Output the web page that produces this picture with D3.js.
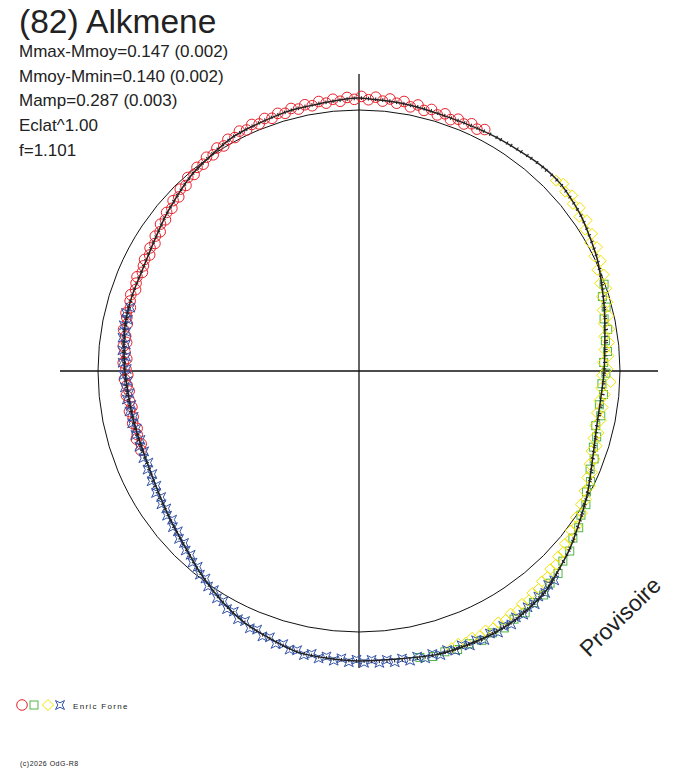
<!DOCTYPE html>
<html><head><meta charset="UTF-8">
<title>(82) Alkmene</title>
<script src="https://cdn.jsdelivr.net/npm/d3@7/dist/d3.min.js"></script>
<style>
  body { margin: 0; background: #fff; }
  svg { display: block; }
  text { font-family: "Liberation Sans", Arial, sans-serif; fill: #222; }
  .axis { stroke: #111; stroke-width: 1.3; }
  .ref { fill: none; stroke: #111; stroke-width: 1; }
  .fit { fill: none; stroke: #222; stroke-width: 1.5; }
  .tick { stroke: #222; stroke-width: 1.1; }
  .mark { fill: none; stroke-width: 1; }
</style>
</head>
<body>
<svg width="688" height="768"></svg>
<script>
//begin: data (phase in degrees clockwise from top, flux relative to mean)
var fitPhase = [0,10,20,30,40,47,55,65,76,90,103,110,118,125,131,140,148,155,165,180,192,203,210,218,225,233,246,258,270,280,288,295,303,310,320,332,344,354];
var fitFlux  = [1.046,1.038,1.031,1.038,1.050,1.054,1.038,1.008,0.969,0.939,0.935,0.954,0.992,1.027,1.061,1.107,1.126,1.130,1.126,1.111,1.103,1.065,1.031,0.985,0.946,0.916,0.885,0.885,0.897,0.912,0.916,0.916,0.931,0.954,0.989,1.019,1.031,1.038];

var redPhase = [250,251.5,253,254,255.5,257,258.5,260,261,262.5,264,265,266.5,268,269,270.5,272,273,274.5,276,277,278.5,280,281.5,283,284,285.5,287,288.5,290,291.5,293,294.5,296,297.5,299,300.5,302,303.5,305,306.5,308,309.5,311,312.5,314,315.5,317,318.5,320,321.5,323,324.5,326,327.5,329,330.5,332,333.5,335,336.5,338,339.5,341,342.5,344,345.5,347,348.5,350,351.5,353,354.5,356,357.5,359,0.5,2,3.5,5,6.5,8,9.5,11,12.5,14,15.5,17,18.5,20,21.5,23,24.5,26,27.5];
var redFlux  = [0.889,0.880,0.892,0.884,0.878,0.890,0.883,0.893,0.881,0.887,0.896,0.884,0.890,0.899,0.886,0.893,0.904,0.891,0.899,0.908,0.897,0.904,0.916,0.906,0.913,0.920,0.909,0.917,0.922,0.911,0.918,0.924,0.912,0.919,0.926,0.917,0.929,0.922,0.936,0.930,0.946,0.941,0.955,0.950,0.966,0.960,0.977,0.972,0.990,0.983,0.997,0.992,1.006,0.999,1.013,1.006,1.020,1.013,1.027,1.019,1.030,1.021,1.033,1.024,1.035,1.027,1.039,1.030,1.041,1.032,1.044,1.034,1.046,1.036,1.049,1.041,1.052,1.040,1.051,1.038,1.049,1.036,1.047,1.031,1.044,1.029,1.040,1.026,1.039,1.025,1.037,1.028,1.041,1.031,1.043];

var greenPhase = [70.5,73,75.5,78,80.5,83,85.5,88,90.5,93,95.5,98,100.5,103,105.5,108,110.5,113,115.5,118,120.5,123,125.5,128,130.5,133,135.5,138,140.5,143,145.5,148,150.5,153,155.5,158,160.5,163,165.5,168];
var greenFlux  = [0.996,0.975,0.978,0.960,0.966,0.951,0.955,0.938,0.946,0.932,0.941,0.930,0.942,0.931,0.945,0.944,0.962,0.962,0.983,0.987,1.009,1.014,1.034,1.040,1.062,1.068,1.088,1.094,1.112,1.111,1.124,1.121,1.131,1.126,1.134,1.127,1.132,1.125,1.130,1.122];

var yellowPhase = [46,47.5,49,50.5,52,53.5,55,56.5,58,59.5,61,62.5,64,65.5,67,68.5,70,71.5,73,74.5,76,77.5,79,80.5,82,83.5,85,86.5,88,89.5,91,92.5,94,95.5,97,98.5,100,101.5,103,104.5,106,107.5,109,110.5,112,113.5,115,116.5,118,119.5,121,122.5,124,125.5,127,128.5,130,131.5,133,134.5,136,137.5,139,140.5,142,143.5,145,146.5,148,149.5,151,152.5,154,155.5,157,158.5,160,161.5];
var yellowFlux  = [1.050,1.062,1.047,1.058,1.040,1.052,1.031,1.046,1.022,1.036,1.013,1.028,1.003,1.018,0.992,1.008,0.983,0.999,0.974,0.988,0.962,0.979,0.955,0.972,0.949,0.964,0.944,0.958,0.936,0.952,0.932,0.965,0.930,0.946,0.928,0.944,0.926,0.945,0.929,0.948,0.935,0.955,0.942,0.964,0.953,0.974,0.965,0.988,0.979,1.000,0.992,1.013,1.003,1.024,1.016,1.034,1.030,1.046,1.043,1.058,1.055,1.070,1.068,1.082,1.079,1.093,1.089,1.101,1.096,1.107,1.101,1.112,1.106,1.116,1.110,1.118,1.112,1.120];

var bluePhase = [137,138.5,140,141.5,143,144.5,146,147.5,149,150.5,152,153.5,155,156.5,158,159.5,161,162.5,164,165.5,167,168.5,170,171.5,173,174.5,176,177.5,179,180.5,182,183.5,185,186.5,188,189.5,191,192.5,194,195.5,197,198.5,200,201.5,203,204.5,206,207.5,209,210.5,212,213.5,215,216.5,218,219.5,221,222.5,224,225.5,227,228.5,230,231.5,233,234.5,236,237.5,239,240.5,242,243.5,245,246.5,248,249.5,251,252.5,254,255.5,257,258.5,260,261.5,263,264.5,266,267.5,269,270.5,272,273.5,275,276.5,278,279.5,281,282.5,284,285.5];
var blueFlux  = [1.097,1.094,1.110,1.104,1.119,1.112,1.126,1.119,1.133,1.122,1.135,1.124,1.137,1.125,1.134,1.122,1.133,1.121,1.132,1.120,1.130,1.117,1.127,1.114,1.124,1.112,1.121,1.108,1.118,1.106,1.116,1.103,1.114,1.101,1.112,1.099,1.109,1.096,1.100,1.086,1.093,1.076,1.082,1.065,1.071,1.053,1.058,1.039,1.043,1.024,1.027,1.007,1.008,0.989,0.990,0.972,0.973,0.955,0.956,0.940,0.943,0.927,0.931,0.915,0.921,0.907,0.913,0.899,0.907,0.892,0.900,0.885,0.894,0.880,0.891,0.879,0.890,0.878,0.891,0.880,0.892,0.881,0.893,0.882,0.896,0.884,0.899,0.887,0.902,0.890,0.906,0.894,0.910,0.899,0.915,0.904,0.918,0.907,0.920,0.909];

// model ticks with no plotted point (gap between red and yellow)
var extraPhase = [29,30.5,31.5,33,34,35.5,36.5,38,39,40.5,42,43,44.5];

var titleText = "(82) Alkmene";
var infoLines = ["Mmax-Mmoy=0.147 (0.002)", "Mmoy-Mmin=0.140 (0.002)", "Mamp=0.287 (0.003)", "Eclat^1.00", "f=1.101"];
var observer = "Enric Forne";
var copyright = "(c)2026 OdG-R8";
//end: data

//begin: layout conf.
var cx = 359, cy = 371,
    refRadius = 261,
    axisHalf = 298;
var colors = {red: "#e8202a", green: "#52b548", yellow: "#f2e400", blue: "#3454a8"};
//end: layout conf.

var svg = d3.select("svg");
var rScale = d3.scaleLinear().domain([0, 1]).range([0, refRadius]);
var aScale = d3.scaleLinear().domain([0, 360]).range([0, 2 * Math.PI]);
// model flux at any phase, through the read knots
var fitScale = d3.scaleLinear()
  .domain(fitPhase.concat([360]))
  .range(fitFlux.concat([fitFlux[0]]));

function pos(phase, flux) {
  var p = d3.pointRadial(aScale(phase), rScale(flux));
  return [cx + p[0], cy + p[1]];
}

var shapes = {
  circle: function(g) { g.append("circle").attr("r", 5.3); },
  square: function(g) { g.append("rect").attr("x", -4).attr("y", -4).attr("width", 8).attr("height", 8); },
  diamond: function(g) { g.append("path").attr("d", "M0,-5.5L5.5,0L0,5.5L-5.5,0Z"); },
  star: function(g) { g.append("path").attr("d", "M-4.5,-4.5L0,-2.2L4.5,-4.5L2.2,0L4.5,4.5L0,2.2L-4.5,4.5L-2.2,0Z"); }
};

//begin: axes and reference circle
var plot = svg.append("g");
plot.append("line").attr("class", "axis")
  .attr("x1", cx - axisHalf - 1).attr("x2", cx + axisHalf + 1).attr("y1", cy).attr("y2", cy);
plot.append("line").attr("class", "axis")
  .attr("x1", cx).attr("x2", cx).attr("y1", cy - axisHalf + 1).attr("y2", cy + axisHalf - 1);
plot.append("circle").attr("class", "ref")
  .attr("cx", cx).attr("cy", cy).attr("r", rScale(1));
//end: axes and reference circle

//begin: data points
function drawSeries(phases, fluxes, shape, color) {
  var pts = phases.map(function(p, i) { return {phase: p, flux: fluxes[i]}; });
  plot.append("g").selectAll("g")
    .data(pts)
    .enter()
    .append("g")
      .attr("class", "mark")
      .attr("stroke", color)
      .attr("transform", function(d) { return "translate(" + pos(d.phase, d.flux) + ")"; })
      .each(function() { shapes[shape](d3.select(this)); });
}
drawSeries(redPhase, redFlux, "circle", colors.red);
drawSeries(greenPhase, greenFlux, "square", colors.green);
drawSeries(yellowPhase, yellowFlux, "diamond", colors.yellow);
drawSeries(bluePhase, blueFlux, "star", colors.blue);
//end: data points

//begin: fitted curve
var fitLine = d3.lineRadial()
  .angle(function(d) { return aScale(d[0]); })
  .radius(function(d) { return rScale(d[1]); })
  .curve(d3.curveCardinalClosed.tension(0.3));
plot.append("path").attr("class", "fit")
  .attr("transform", "translate(" + [cx, cy] + ")")
  .attr("d", fitLine(fitPhase.map(function(p, i) { return [p, fitFlux[i]]; })));

var tickPhases = redPhase.concat(greenPhase, yellowPhase, bluePhase, extraPhase);
plot.append("g").selectAll("line")
  .data(tickPhases)
  .enter()
  .append("line")
    .attr("class", "tick")
    .attr("x1", function(d) { return pos(d, fitScale(d) - 0.007)[0]; })
    .attr("y1", function(d) { return pos(d, fitScale(d) - 0.007)[1]; })
    .attr("x2", function(d) { return pos(d, fitScale(d) + 0.007)[0]; })
    .attr("y2", function(d) { return pos(d, fitScale(d) + 0.007)[1]; });
//end: fitted curve

//begin: texts
svg.append("text").attr("x", 19).attr("y", 33)
  .style("font-size", "33.5px").text(titleText);
svg.append("g").selectAll("text")
  .data(infoLines)
  .enter()
  .append("text")
    .attr("x", 19)
    .attr("y", function(d, i) { return 57 + i * 24.7; })
    .style("font-size", "17px")
    .text(function(d) { return d; });

svg.append("text")
  .attr("transform", "translate(589,658) rotate(-44)")
  .style("font-size", "23px")
  .text("Provisoire");

var legend = svg.append("g");
[["circle", colors.red, 22], ["square", colors.green, 34], ["diamond", colors.yellow, 48], ["star", colors.blue, 60]]
  .forEach(function(l) {
    var g = legend.append("g").attr("class", "mark").attr("stroke", l[1])
      .attr("transform", "translate(" + [l[2], 705] + ")");
    shapes[l[0]](g);
  });
legend.append("text").attr("x", 73).attr("y", 708.5)
  .style("font-size", "8px").style("letter-spacing", "1.3px").text(observer);

svg.append("text").attr("x", 20).attr("y", 765.5)
  .style("font-size", "7px").style("letter-spacing", "0.5px").text(copyright);
//end: texts
</script>
</body></html>
